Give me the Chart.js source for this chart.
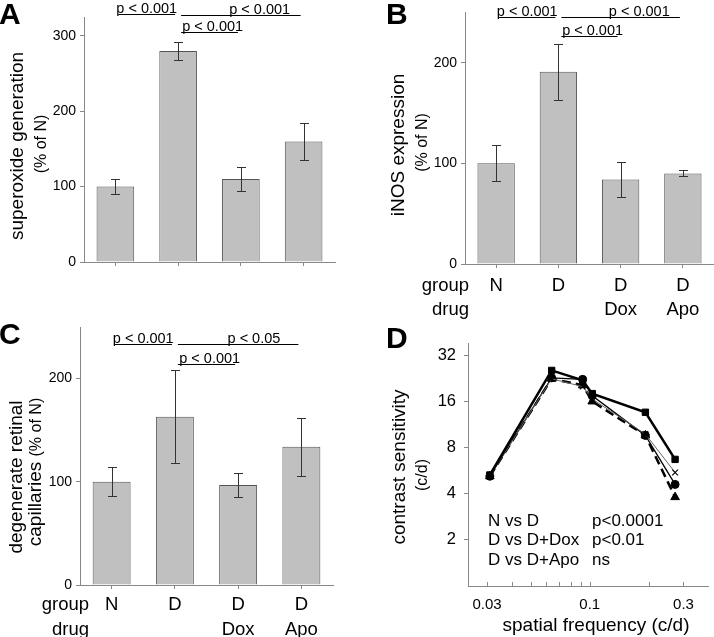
<!DOCTYPE html>
<html>
<head>
<meta charset="utf-8">
<script src="https://cdn.jsdelivr.net/npm/chart.js@4.4.0/dist/chart.umd.min.js"></script>
<style>
  html, body { margin: 0; padding: 0; background: #fff; }
  #fig { position: relative; width: 714px; height: 637px; overflow: hidden; }
  #fig canvas { position: absolute; }
</style>
</head>
<body>
<div id="fig">
  <canvas id="cA" width="357" height="300" style="left:0;top:0"></canvas>
  <canvas id="cB" width="357" height="320" style="left:357px;top:0"></canvas>
  <canvas id="cC" width="357" height="337" style="left:0;top:300px"></canvas>
  <canvas id="cD" width="357" height="317" style="left:357px;top:320px"></canvas>
</div>
<script>
// --- data ---
const groups = ['N', 'D', 'D', 'D'];
const drugs = ['', '', 'Dox', 'Apo'];

const superoxide = [100, 280, 110, 160];
const superoxideErr = [10, 12, 16, 25];
const inos = [100, 191, 84, 90];
const inosErr = [18, 28, 17, 3];
const capillaries = [100, 163, 97, 134];
const capillariesErr = [14, 45, 12, 28];

const freqs = [0.031, 0.064, 0.092, 0.103, 0.192, 0.272];
const sensN = [5.3, 25.5, 22, 18, 13.6, 6.7];      // squares, thick line
const sensDox = [5.2, 22.8, 22.3, 17.4, 9.6, 4.6]; // circles, thin line
const sensApo = [5.2, 22.5, 20, 16.6, 9.8, 5.5];   // crosses, grey line
const sensD = [5.2, 22.5, 20.4, 16, 9.6, 3.8];     // triangles, dashed

const yTicksA = [0, 100, 200, 300];
const yTicksBC = [0, 100, 200];
const freqTicks = [0.03, 0.04, 0.05, 0.06, 0.07, 0.08, 0.09, 0.1, 0.2, 0.3];
const freqLabels = [0.03, 0.1, 0.3];
const sensTicks = [2, 4, 8, 16, 32];
const stats = [['N vs D', 'p<0.0001'], ['D vs D+Dox', 'p<0.01'], ['D vs D+Apo', 'ns']];

const FONT = '"Liberation Sans", Arial, Helvetica, sans-serif';
const AXIS = '#888';
Chart.defaults.font.family = FONT;
Chart.defaults.color = '#000';

function txt(ctx, s, x, y, size, opt = {}) {
    ctx.save();
    ctx.font = (opt.bold ? 'bold ' : '') + size + 'px ' + FONT;
    ctx.fillStyle = '#000';
    ctx.textAlign = opt.align || 'left';
    ctx.textBaseline = 'alphabetic';
    ctx.fillText(s, x, y);
    ctx.restore();
}

// rotated (bottom-to-top) text, parts = [[text, size], ...], centred on cx/cy
function rotText(ctx, parts, cx, cy) {
    ctx.save();
    let w = 0;
    const widths = parts.map(p => {
        ctx.font = p[1] + 'px ' + FONT;
        const m = ctx.measureText(p[0]).width;
        w += m;
        return m;
    });
    ctx.translate(cx + 0.35 * parts[0][1], cy);
    ctx.rotate(-Math.PI / 2);
    ctx.fillStyle = '#000';
    ctx.textAlign = 'left';
    ctx.textBaseline = 'alphabetic';
    let pos = -w / 2;
    parts.forEach((p, i) => {
        ctx.font = p[1] + 'px ' + FONT;
        ctx.fillText(p[0], pos, 0);
        pos += widths[i];
    });
    ctx.restore();
}

/** error bars, p-value brackets, titles and group rows for a bar panel */
function barExtras(errs, ex) {
    return {
        id: 'barExtras',
        afterDraw(chart) {
            const ctx = chart.ctx, xs = chart.scales.x, ys = chart.scales.y;
            const vals = chart.data.datasets[0].data;
            ctx.save();
            ctx.strokeStyle = '#333';
            ctx.lineWidth = 1;
            vals.forEach((v, i) => {
                const px = Math.round(xs.getPixelForValue(i)) + 0.5;
                const hi = Math.round(ys.getPixelForValue(v + errs[i])) + 0.5;
                const lo = Math.round(ys.getPixelForValue(v - errs[i])) + 0.5;
                ctx.beginPath();
                ctx.moveTo(px, hi); ctx.lineTo(px, lo);
                ctx.moveTo(px - 4.5, hi); ctx.lineTo(px + 4.5, hi);
                ctx.moveTo(px - 4.5, lo); ctx.lineTo(px + 4.5, lo);
                ctx.stroke();
            });
            // significance brackets
            ctx.strokeStyle = '#000';
            ex.brackets.forEach(b => {
                const py = Math.round(ys.getPixelForValue(b.y)) + 0.5;
                ctx.beginPath();
                ctx.moveTo(xs.getPixelForValue(b.from) + 3, py);
                ctx.lineTo(xs.getPixelForValue(b.to) - 3, py);
                ctx.stroke();
                txt(ctx, b.label, xs.getPixelForValue(b.at), py - 2, 14.5, { align: 'center' });
            });
            ctx.restore();

            ex.titles.forEach(t => rotText(ctx, t.parts, t.x, t.y));
            txt(ctx, ex.letter, ex.lx, ex.ly, 30, { bold: true });

            if (ex.rows) {
                const a = chart.chartArea;
                txt(ctx, 'group', a.left + ex.rows.dx, ex.rows.y1, 18.5, { align: 'right' });
                txt(ctx, 'drug', a.left + ex.rows.dx, ex.rows.y2, 18.5, { align: 'right' });
                groups.forEach((g, i) => {
                    const px = xs.getPixelForValue(i);
                    txt(ctx, g, px, ex.rows.y1, 18.5, { align: 'center' });
                    if (drugs[i]) txt(ctx, drugs[i], px, ex.rows.y2, 18.5, { align: 'center' });
                });
            }
        }
    };
}

function barPanel(id, W, H, area, values, errs, yMax, yTicks, ex) {
    return new Chart(document.getElementById(id), {
        type: 'bar',
        data: {
            labels: groups,
            datasets: [{
                data: values,
                backgroundColor: '#c0c0c0',
                borderColor: '#555',
                borderWidth: 1,
                barPercentage: 0.6,
                categoryPercentage: 1
            }]
        },
        options: {
            responsive: false,
            animation: false,
            events: [],
            layout: { padding: { left: 0, top: area.top, right: W - area.right, bottom: 0 } },
            plugins: { legend: { display: false }, tooltip: { enabled: false } },
            scales: {
                x: {
                    offset: true,
                    grid: { offset: false, drawOnChartArea: false, tickLength: 4, color: AXIS },
                    border: { color: AXIS },
                    ticks: { display: false },
                    afterFit: s => { s.height = H - area.bottom; }
                },
                y: {
                    min: 0,
                    max: yMax,
                    afterBuildTicks: s => { s.ticks = yTicks.map(v => ({ value: v })); },
                    grid: { drawOnChartArea: false, tickLength: 4, color: AXIS },
                    border: { color: AXIS },
                    ticks: { font: { size: 14 }, padding: 4 },
                    afterFit: s => { s.width = area.left; }
                }
            }
        },
        plugins: [barExtras(errs, ex)]
    });
}

// A
barPanel('cA', 357, 300, { left: 84, top: 17, right: 335, bottom: 262 },
    superoxide, superoxideErr, 325, yTicksA, {
        letter: 'A', lx: -1, ly: 24,
        titles: [
            { parts: [['superoxide generation', 19]], x: 16.5, y: 146 },
            { parts: [['(% of N)', 16]], x: 40, y: 144 }
        ],
        brackets: [
            { from: 0, to: 1, y: 329, at: 0.5, label: 'p < 0.001' },
            { from: 1, to: 3, y: 328, at: 2.3, label: 'p < 0.001' },
            { from: 1, to: 2, y: 305, at: 1.55, label: 'p < 0.001' }
        ]
    });

// B
barPanel('cB', 357, 320, { left: 108, top: 9, right: 357, bottom: 264 },
    inos, inosErr, 250, yTicksBC, {
        letter: 'B', lx: 29, ly: 24,
        titles: [
            { parts: [['iNOS expression', 19]], x: 40.5, y: 145 },
            { parts: [['(% of N)', 16]], x: 64.5, y: 142.5 }
        ],
        brackets: [
            { from: 0, to: 1, y: 245, at: 0.5, label: 'p < 0.001' },
            { from: 1, to: 3, y: 245, at: 2.3, label: 'p < 0.001' },
            { from: 1, to: 2, y: 226.5, at: 1.55, label: 'p < 0.001' }
        ],
        rows: { dx: 4, y1: 291, y2: 315 }
    });

// C
barPanel('cC', 357, 337, { left: 80, top: 27, right: 333, bottom: 285 },
    capillaries, capillariesErr, 250, yTicksBC, {
        letter: 'C', lx: -1, ly: 44,
        titles: [
            { parts: [['degenerate retinal', 19]], x: 15, y: 177 },
            { parts: [['capillaries ', 19], ['(% of N)', 16]], x: 34, y: 172 }
        ],
        brackets: [
            { from: 0, to: 1, y: 234, at: 0.5, label: 'p < 0.001' },
            { from: 1, to: 3, y: 234, at: 2.25, label: 'p < 0.05' },
            { from: 1, to: 2, y: 214, at: 1.55, label: 'p < 0.001' }
        ],
        rows: { dx: 9, y1: 310, y2: 335 }
    });

// D
const dExtras = {
    id: 'dExtras',
    afterDraw(chart) {
        const ctx = chart.ctx, xs = chart.scales.x, a = chart.chartArea;
        ctx.save();
        ctx.strokeStyle = AXIS;
        ctx.lineWidth = 1;
        xs.ticks.forEach(t => {
            const px = Math.round(xs.getPixelForValue(t.value)) + 0.5;
            ctx.beginPath();
            ctx.moveTo(px, a.bottom);
            ctx.lineTo(px, a.bottom - 4);
            ctx.stroke();
        });
        ctx.restore();
        stats.forEach((s, i) => {
            const y = a.bottom - 60.5 + i * 19.5;
            txt(ctx, s[0], a.left + 20, y, 17);
            txt(ctx, s[1], a.left + 124, y, 17);
        });
        rotText(ctx, [['contrast sensitivity', 19]], 41, 147);
        rotText(ctx, [['(c/d)', 16]], 64, 155);
        txt(ctx, 'spatial frequency (c/d)', 239, 311, 19, { align: 'center' });
        txt(ctx, 'D', 29, 28, 30, { bold: true });
    }
};

function curve(vals) {
    return freqs.map((f, i) => ({ x: f, y: vals[i] }));
}

new Chart(document.getElementById('cD'), {
    type: 'line',
    data: {
        datasets: [
            {
                data: curve(sensN), borderColor: '#000', backgroundColor: '#000', borderWidth: 2.5,
                pointStyle: 'rect', pointRadius: 4.5, pointBorderWidth: 1
            },
            {
                data: curve(sensApo), borderColor: '#666', backgroundColor: '#000', borderWidth: 1,
                pointStyle: 'crossRot', pointRadius: 4, pointBorderColor: '#000', pointBorderWidth: 1.2
            },
            {
                data: curve(sensDox), borderColor: '#000', backgroundColor: '#000', borderWidth: 1.3,
                pointStyle: 'circle', pointRadius: 4, pointBorderWidth: 1
            },
            {
                data: curve(sensD), borderColor: '#000', backgroundColor: '#000', borderWidth: 2.5,
                borderDash: [9, 5], pointStyle: 'triangle', pointRadius: 5, pointBorderWidth: 1
            }
        ]
    },
    options: {
        responsive: false,
        animation: false,
        events: [],
        layout: { padding: { left: 0, top: 23, right: 1, bottom: 0 } },
        plugins: { legend: { display: false }, tooltip: { enabled: false } },
        elements: { line: { tension: 0 } },
        scales: {
            x: {
                type: 'logarithmic',
                min: 0.024,
                max: 0.4,
                afterBuildTicks: s => { s.ticks = freqTicks.map(v => ({ value: v })); },
                ticks: {
                    autoSkip: false, maxRotation: 0, font: { size: 15 }, padding: 10,
                    callback: v => freqLabels.includes(v) ? String(v) : ''
                },
                grid: { drawOnChartArea: false, drawTicks: false },
                border: { color: AXIS },
                afterFit: s => { s.height = 317 - 266; }
            },
            y: {
                type: 'logarithmic',
                min: 1,
                max: 38.5,
                afterBuildTicks: s => { s.ticks = sensTicks.map(v => ({ value: v })); },
                ticks: { font: { size: 16.5 }, padding: 8, callback: v => String(v) },
                grid: { drawOnChartArea: false, tickLength: 4, color: AXIS },
                border: { color: AXIS },
                afterFit: s => { s.width = 111; }
            }
        }
    },
    plugins: [dExtras]
});
</script>
</body>
</html>
